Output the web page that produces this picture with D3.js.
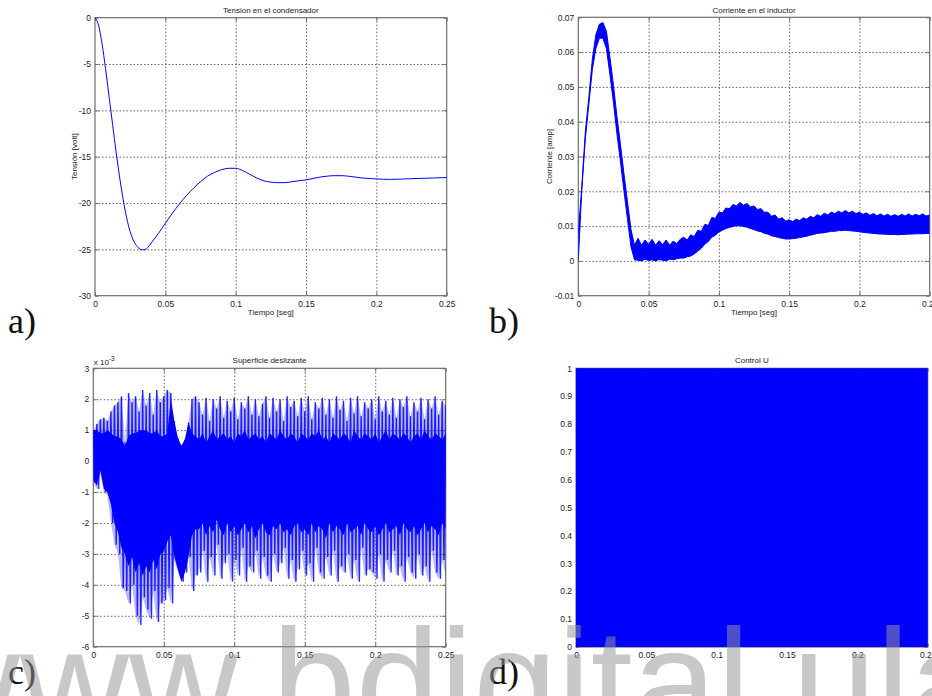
<!DOCTYPE html>
<html>
<head>
<meta charset="utf-8">
<script src="https://cdn.jsdelivr.net/npm/d3@7"></script>
<style>
  body { margin: 0; background: #fff; }
  svg { display: block; }
</style>
</head>
<body>
<svg id="fig" width="932" height="696"></svg>
<script>
// ---------------- data ----------------
const timeTicks = [0, 0.05, 0.1, 0.15, 0.2, 0.25];
const tensionTicks = [0, -5, -10, -15, -20, -25, -30];
const currentTicks = [0.07, 0.06, 0.05, 0.04, 0.03, 0.02, 0.01, 0, -0.01];
const surfaceTicks = [3, 2, 1, 0, -1, -2, -3, -4, -5, -6];   // x 10^-3
const controlTicks = [1, 0.9, 0.8, 0.7, 0.6, 0.5, 0.4, 0.3, 0.2, 0.1, 0];

// capacitor voltage [V]
const tensionTime = [0, 0.0025, 0.005, 0.0075, 0.01, 0.0125, 0.015, 0.0175, 0.02, 0.0225,
  0.025, 0.0275, 0.03, 0.0325, 0.035, 0.0375, 0.04, 0.045, 0.05, 0.055, 0.06, 0.065, 0.07,
  0.075, 0.08, 0.085, 0.09, 0.095, 0.1, 0.105, 0.11, 0.115, 0.12, 0.125, 0.13, 0.135, 0.14,
  0.145, 0.15, 0.155, 0.16, 0.165, 0.17, 0.175, 0.18, 0.185, 0.19, 0.195, 0.2, 0.21, 0.22,
  0.23, 0.24, 0.25];
const tensionVolt = [0, -0.8, -2.8, -5.5, -8.5, -11.5, -14.5, -17.2, -19.6, -21.6,
  -23.1, -24.1, -24.7, -25.0, -25.05, -24.8, -24.3, -23.3, -22.2, -21.1, -20.1, -19.2, -18.4,
  -17.7, -17.1, -16.7, -16.4, -16.25, -16.25, -16.5, -16.9, -17.3, -17.6, -17.75, -17.8, -17.8, -17.7,
  -17.6, -17.5, -17.35, -17.2, -17.1, -17.05, -17.05, -17.1, -17.2, -17.3, -17.35, -17.4, -17.45, -17.4,
  -17.35, -17.3, -17.25];

// chattering signals are listed on a uniform time grid
const sampleStep = 0.0025;

// inductor current [A]: upper / lower envelope of the switching ripple
const currentHi = [
  0.008, 0.0215, 0.037, 0.047, 0.058, 0.065, 0.068, 0.0685, 0.066, 0.0585,
  0.0505, 0.0415, 0.0335, 0.025, 0.017, 0.009, 0.0045, 0.0065, 0.0045, 0.006,
  0.0048, 0.0062, 0.0045, 0.0058, 0.0047, 0.006, 0.0045, 0.0057, 0.005, 0.0062,
  0.0068, 0.006, 0.0075, 0.007, 0.0088, 0.0085, 0.0105, 0.0102, 0.0125, 0.0122,
  0.014, 0.0138, 0.0152, 0.015, 0.0162, 0.0158, 0.0168, 0.016, 0.0165, 0.0155,
  0.0158, 0.0148, 0.015, 0.014, 0.014, 0.0128, 0.0132, 0.012, 0.0124, 0.0115,
  0.0118, 0.0113, 0.012, 0.0116, 0.0124, 0.012, 0.0128, 0.0124, 0.0133, 0.0128,
  0.0137, 0.0132, 0.014, 0.0136, 0.0143, 0.0138, 0.0145, 0.0138, 0.0143, 0.0136,
  0.014, 0.0134, 0.0138, 0.0131, 0.0136, 0.013, 0.0135, 0.0129, 0.0134, 0.0128,
  0.0133, 0.0128, 0.0134, 0.0129, 0.0135, 0.0129, 0.0134, 0.013, 0.0135, 0.0129,
  0.0132];
const currentLo = [
  0, 0.0205, 0.035, 0.045, 0.055, 0.061, 0.064, 0.064, 0.061, 0.0535,
  0.0455, 0.0365, 0.0285, 0.02, 0.012, 0.004, 0.0003, 0.0002, 0, 0.0005,
  0.0001, 0.0003, 0, 0.0004, 0.0002, 0, 0.0005, 0.0003, 0.0006, 0.0008,
  0.0008, 0.0012, 0.0014, 0.002, 0.0028, 0.0036, 0.0048, 0.0056, 0.0068, 0.0074,
  0.0083, 0.0088, 0.0093, 0.0096, 0.0099, 0.0101, 0.0101, 0.0099, 0.0097, 0.0093,
  0.009, 0.0086, 0.0084, 0.0079, 0.0077, 0.0072, 0.007, 0.0067, 0.0065, 0.0063,
  0.0063, 0.0064, 0.0065, 0.0067, 0.0069, 0.0071, 0.0074, 0.0076, 0.0079, 0.008,
  0.0081, 0.0083, 0.0085, 0.0085, 0.0087, 0.0087, 0.0088, 0.0087, 0.0086, 0.0085,
  0.0084, 0.0082, 0.0081, 0.008, 0.0079, 0.0078, 0.0077, 0.0077, 0.0076, 0.0076,
  0.0076, 0.0075, 0.0076, 0.0076, 0.0077, 0.0077, 0.0078, 0.0078, 0.0078, 0.0079,
  0.0079];

// sliding surface [x 10^-3]: dense core band and spike extremes
const surfaceCoreHi = [
  1.0, 1.0, 0.9, 0.9, 1.0, 0.9, 0.8, 0.8, 0.7, 0.5,
  0.8, 0.9, 0.9, 1.0, 1.0, 1.0, 0.9, 0.9, 1.0, 0.8,
  0.8, 0.9, 2.0, 1.3, 0.75, 0.5, 0.7, 1.25, 0.9, 0.8,
  0.7, 0.9, 0.6, 0.8, 1.0, 0.7, 0.8, 0.9, 0.7, 0.8,
  0.6, 0.9, 0.8, 1.0, 0.7, 0.8, 0.9, 0.7, 0.8, 0.6,
  0.9, 0.8, 0.7, 1.0, 0.8, 0.7, 0.9, 0.8, 0.6, 0.9,
  0.8, 0.7, 0.9, 0.8, 1.0, 0.7, 0.8, 0.6, 0.9, 0.8,
  0.7, 0.9, 0.8, 0.6, 1.0, 0.8, 0.7, 0.9, 0.8, 0.7,
  0.9, 0.6, 0.8, 1.0, 0.7, 0.9, 0.8, 0.7, 0.9, 0.8,
  0.6, 0.8, 0.9, 0.7, 1.0, 0.8, 0.7, 0.9, 0.8, 0.7,
  0.9];
const surfaceCoreLo = [
  -0.6, -0.8, -0.3, -0.9, -1.0, -1.4, -2.0, -2.3, -2.8, -3.0,
  -3.4, -3.1, -3.6, -3.3, -3.7, -3.4, -3.6, -3.2, -3.5, -3.0,
  -2.9, -2.6, -2.4, -3.1, -3.5, -3.9, -3.6, -3.1, -2.4, -2.2,
  -2.2, -2.0, -2.4, -2.1, -2.3, -1.9, -2.2, -2.4, -2.0, -2.3,
  -2.1, -2.4, -2.2, -2.0, -2.3, -2.1, -2.5, -2.2, -2.0, -2.3,
  -2.4, -2.1, -2.2, -2.0, -2.3, -2.2, -2.4, -2.1, -2.0, -2.3,
  -2.2, -2.4, -2.0, -2.3, -2.1, -2.2, -2.5, -2.0, -2.3, -2.1,
  -2.2, -2.4, -2.0, -2.3, -2.2, -2.1, -2.4, -2.0, -2.2, -2.3,
  -2.1, -2.4, -2.2, -2.0, -2.3, -2.2, -2.1, -2.4, -2.0, -2.2,
  -2.3, -2.1, -2.4, -2.2, -2.0, -2.3, -2.1, -2.2, -2.4, -2.0,
  -2.2];
const surfacePeakHi = [
  1.0, 1.2, 1.35, 1.4, 1.3, 1.6, 1.8, 1.9, 2.1, 0.6,
  2.2, 1.9, 2.1, 1.6, 2.3, 1.8, 2.2, 1.5, 2.3, 1.9,
  2.1, 2.3, 2.2, 1.3, 0.75, 0.5, 0.7, 1.25, 2.0, 2.1,
  1.9, 1.5, 2.05, 1.3, 2.0, 1.7, 2.1, 1.4, 1.95, 1.6,
  2.05, 1.35, 1.9, 1.7, 2.1, 1.5, 2.0, 1.45, 1.85, 2.1,
  1.4, 2.05, 1.6, 2.0, 1.3, 2.1, 1.75, 1.95, 1.45, 2.05,
  1.6, 2.1, 1.35, 1.9, 1.7, 2.05, 1.5, 2.0, 1.4, 2.1,
  1.65, 1.95, 1.3, 2.05, 1.55, 2.1, 1.45, 1.9, 1.7, 2.0,
  1.35, 2.1, 1.6, 1.95, 1.5, 2.05, 1.4, 2.0, 1.75, 2.1,
  1.45, 1.9, 1.6, 2.05, 1.35, 2.0, 1.7, 2.1, 1.5, 1.95,
  1.8];
const surfacePeakLo = [
  -0.7, -0.9, -0.4, -1.0, -1.1, -2.0, -2.7, -3.0, -4.1, -4.2,
  -4.6, -4.0, -5.0, -5.3, -4.4, -4.8, -5.1, -4.2, -5.2, -4.6,
  -4.5, -4.1, -4.6, -3.2, -3.6, -3.9, -3.6, -3.1, -4.2, -3.7,
  -3.6, -2.9, -3.9, -3.1, -3.7, -2.7, -3.8, -3.3, -3.0, -3.9,
  -3.2, -3.7, -2.8, -3.9, -3.4, -3.6, -2.9, -3.8, -3.1, -3.7,
  -3.9, -3.0, -3.6, -3.3, -2.8, -3.8, -3.2, -3.9, -3.5, -2.9,
  -3.7, -3.3, -3.9, -2.8, -3.6, -3.8, -3.1, -3.7, -2.9, -3.9,
  -3.4, -3.6, -3.0, -3.8, -3.2, -3.9, -2.8, -3.7, -3.5, -3.6,
  -3.8, -3.0, -3.9, -3.2, -3.6, -2.9, -3.7, -3.4, -3.9, -3.1,
  -3.6, -3.8, -3.0, -3.7, -3.4, -3.9, -2.9, -3.6, -3.8, -3.2,
  -3.7];

// control signal u switches between its two levels over the whole run
const controlTime = [0, 0.25];
const controlLo = [0, 0];
const controlHi = [1, 1];

const watermarkText = "www.bdigital.ula.ve";

// ---------------- layout ----------------
const BLUE = "#0000ff";
const FONT = "'Liberation Sans', Arial, Helvetica, sans-serif";
const svg = d3.select("#fig");

const boxes = {
  a: { x0: 95,    x1: 446.7, y0: 17.7,  y1: 295.7 },
  b: { x0: 578.3, x1: 929.7, y0: 17.3,  y1: 295.7 },
  c: { x0: 93.3,  x1: 445.7, y0: 368.3, y1: 646.7 },
  d: { x0: 576,   x1: 927.7, y0: 368.3, y1: 647 }
};

const fmt = v => String(v);

function makeAxes(id, box, yDomain, yTicks, title, titleY) {
  const g = svg.append("g").attr("class", "panel-" + id);
  const x = d3.scaleLinear().domain([0, 0.25]).range([box.x0, box.x1]);
  const y = d3.scaleLinear().domain(yDomain).range([box.y1, box.y0]);
  const w = box.x1 - box.x0, h = box.y1 - box.y0;

  // dotted grid
  const grid = g.append("g").attr("class", "grid");
  grid.append("g").attr("transform", `translate(0,${box.y1})`)
    .call(d3.axisBottom(x).tickValues(timeTicks.slice(1, -1)).tickSize(-h).tickFormat(""));
  grid.append("g").attr("transform", `translate(${box.x0},0)`)
    .call(d3.axisLeft(y).tickValues(yTicks.filter(v => v !== yDomain[0] && v !== yDomain[1])).tickSize(-w).tickFormat(""));
  grid.selectAll(".domain").remove();
  grid.selectAll("line")
    .attr("stroke", "#3a3a3a").attr("stroke-width", 0.8).attr("stroke-dasharray", "1.5,2");

  // box
  g.append("rect").attr("x", box.x0).attr("y", box.y0).attr("width", w).attr("height", h)
    .attr("fill", "none").attr("stroke", "#6e6e6e").attr("stroke-width", 1.2);

  // inward ticks on all four sides
  const tk = 3.5;
  const ticks = g.append("g").attr("class", "ticks");
  ticks.append("g").attr("transform", `translate(0,${box.y1})`)
    .call(d3.axisBottom(x).tickValues(timeTicks).tickSize(-tk).tickFormat(""));
  ticks.append("g").attr("transform", `translate(0,${box.y0})`)
    .call(d3.axisTop(x).tickValues(timeTicks).tickSize(-tk).tickFormat(""));
  ticks.append("g").attr("transform", `translate(${box.x0},0)`)
    .call(d3.axisLeft(y).tickValues(yTicks).tickSize(-tk).tickFormat(""));
  ticks.append("g").attr("transform", `translate(${box.x1},0)`)
    .call(d3.axisRight(y).tickValues(yTicks).tickSize(-tk).tickFormat(""));
  ticks.selectAll(".domain").remove();
  ticks.selectAll("line").attr("stroke", "#6e6e6e");

  // clipped plotting layer
  const clipId = "clip-" + id;
  svg.append("clipPath").attr("id", clipId).append("rect")
    .attr("x", box.x0).attr("y", box.y0).attr("width", w).attr("height", h);
  const plot = g.append("g").attr("clip-path", `url(#${clipId})`);

  // tick labels
  const labels = g.append("g").attr("class", "labels");
  labels.append("g").attr("transform", `translate(0,${box.y1})`)
    .call(d3.axisBottom(x).tickValues(timeTicks).tickSize(0).tickPadding(5.3).tickFormat(fmt));
  labels.append("g").attr("transform", `translate(${box.x0},0)`)
    .call(d3.axisLeft(y).tickValues(yTicks).tickSize(0).tickPadding(4).tickFormat(fmt));
  labels.selectAll(".domain").remove();
  labels.selectAll("text")
    .attr("font-family", FONT).attr("font-size", 8.5).attr("fill", "#222");

  // title
  g.append("text").attr("x", (box.x0 + box.x1) / 2).attr("y", titleY)
    .attr("text-anchor", "middle").attr("font-family", FONT).attr("font-size", 8)
    .attr("fill", "#222").text(title);

  return { g, plot, labels, x, y, box };
}

function axisLabels(ax, xLabel, yLabel, yLabelX) {
  const { g, box } = ax;
  g.append("text").attr("x", (box.x0 + box.x1) / 2).attr("y", 315)
    .attr("text-anchor", "middle").attr("font-family", FONT).attr("font-size", 8)
    .attr("fill", "#222").text(xLabel);
  g.append("text")
    .attr("transform", `translate(${yLabelX},${(box.y0 + box.y1) / 2}) rotate(-90)`)
    .attr("text-anchor", "middle").attr("font-family", FONT).attr("font-size", 8)
    .attr("fill", "#222").text(yLabel);
}

const sampleTime = i => i * sampleStep;

// ---- a) capacitor voltage ----
const axA = makeAxes("a", boxes.a, [-30, 0], tensionTicks, "Tension en el condensador", 12.5);
axisLabels(axA, "Tiempo [seg]", "Tensión [volt]", 77);
axA.plot.append("path")
  .datum(tensionTime.map((t, i) => [t, tensionVolt[i]]))
  .attr("fill", "none").attr("stroke", BLUE).attr("stroke-width", 1)
  .attr("d", d3.line().x(d => axA.x(d[0])).y(d => axA.y(d[1])).curve(d3.curveMonotoneX));

// ---- b) inductor current ----
const axB = makeAxes("b", boxes.b, [-0.01, 0.07], currentTicks, "Corriente en el inductor", 12.5);
axisLabels(axB, "Tiempo [seg]", "Corriente [amp]", 552);
const bandB = currentHi.map((v, i) => ({ t: sampleTime(i), hi: v, lo: currentLo[i] }));
axB.plot.append("path").datum(bandB)
  .attr("fill", BLUE)
  .attr("d", d3.area().x(d => axB.x(d.t)).y0(d => axB.y(d.lo)).y1(d => axB.y(d.hi)));
["hi", "lo"].forEach(k => {
  axB.plot.append("path").datum(bandB)
    .attr("fill", "none").attr("stroke", BLUE).attr("stroke-width", 1)
    .attr("d", d3.line().x(d => axB.x(d.t)).y(d => axB.y(d[k])));
});

// ---- c) sliding surface ----
const axC = makeAxes("c", boxes.c, [-6, 3], surfaceTicks, "Superficie deslizante", 363);
const spanC = surfacePeakHi.map((v, i) => ({ t: sampleTime(i), hi: v, lo: surfacePeakLo[i] }));
// faint tint over the full swing of the switching trace
axC.plot.append("path").datum(spanC)
  .attr("fill", BLUE).attr("fill-opacity", 0.28)
  .attr("d", d3.area().x(d => axC.x(d.t)).y0(d => axC.y(d.lo)).y1(d => axC.y(d.hi)));
const coreC = surfaceCoreHi.map((v, i) => ({ t: sampleTime(i), hi: v, lo: surfaceCoreLo[i] }));
axC.plot.append("path").datum(coreC)
  .attr("fill", BLUE)
  .attr("d", d3.area().x(d => axC.x(d.t)).y0(d => axC.y(d.lo)).y1(d => axC.y(d.hi)));
// switching trace: each period swings from its upper peak to its lower peak
const zig = [];
spanC.forEach(d => {
  zig.push([d.t, d.hi]);
  zig.push([d.t + sampleStep / 2, d.lo]);
});
axC.plot.append("path").datum(zig)
  .attr("fill", "none").attr("stroke", BLUE).attr("stroke-width", 1.4).attr("stroke-opacity", 0.85)
  .attr("d", d3.line().x(d => axC.x(d[0])).y(d => axC.y(d[1])));
// exponent note
const expC = axC.g.append("text").attr("x", boxes.c.x0 + 0.5).attr("y", 365)
  .attr("font-family", FONT).attr("font-size", 8).attr("fill", "#222");
expC.append("tspan").text("x 10");
expC.append("tspan").attr("dy", -4.5).attr("font-size", 6.5).text("-3");

// ---- d) control U ----
const axD = makeAxes("d", boxes.d, [0, 1], controlTicks, "Control U", 363);
axD.plot.append("path")
  .datum(controlTime.map((t, i) => ({ t, hi: controlHi[i], lo: controlLo[i] })))
  .attr("fill", BLUE).attr("stroke", BLUE).attr("stroke-width", 1)
  .attr("d", d3.area().x(d => axD.x(d.t)).y0(d => axD.y(d.lo)).y1(d => axD.y(d.hi)));

// subplot letters
const letters = [["a)", 8, 333], ["b)", 489, 333], ["c)", 8, 684], ["d)", 489, 684]];
svg.append("g").selectAll("text").data(letters).join("text")
  .attr("x", d => d[1]).attr("y", d => d[2])
  .attr("font-family", "'Liberation Serif', 'DejaVu Serif', serif").attr("font-size", 36)
  .attr("fill", "#111").text(d => d[0]);

// repository watermark
svg.append("text").attr("x", -89).attr("y", 734)
  .attr("font-family", FONT).attr("font-size", 151)
  .attr("fill", "rgb(150,150,150)").attr("fill-opacity", 0.52)
  .text(watermarkText);
</script>
</body>
</html>
